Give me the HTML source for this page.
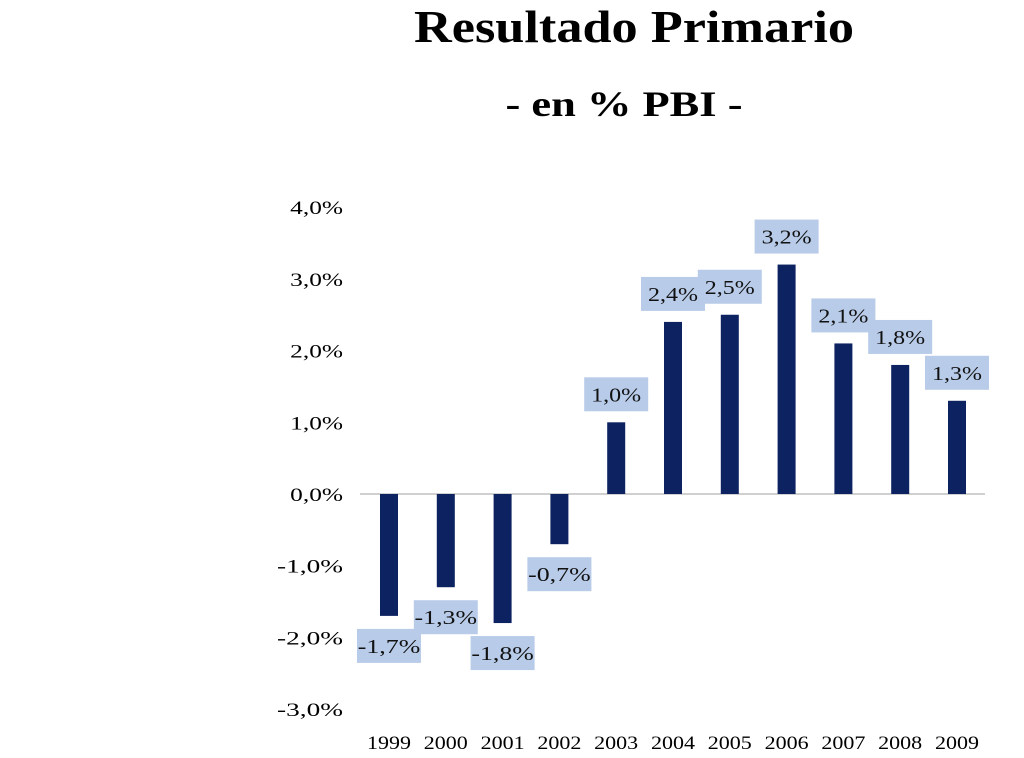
<!DOCTYPE html>
<html><head><meta charset="utf-8"><style>
body{margin:0;background:#fff;}
svg text{font-family:"Liberation Serif",serif;}
</style></head><body>
<svg width="1024" height="753" xmlns="http://www.w3.org/2000/svg">
<text x="634" y="42" text-anchor="middle" font-size="46" font-weight="bold" fill="#000" textLength="440" lengthAdjust="spacingAndGlyphs">Resultado Primario</text>
<text x="624" y="116" text-anchor="middle" font-size="36" font-weight="bold" fill="#000" textLength="237" lengthAdjust="spacingAndGlyphs">- en % PBI -</text>
<g id="plot"></g>
</svg>
<script>
const years=["1999","2000","2001","2002","2003","2004","2005","2006","2007","2008","2009"];
const values=[-1.7,-1.3,-1.8,-0.7,1.0,2.4,2.5,3.2,2.1,1.8,1.3];
const labels=["-1,7%","-1,3%","-1,8%","-0,7%","1,0%","2,4%","2,5%","3,2%","2,1%","1,8%","1,3%"];
const ticks=[4,3,2,1,0,-1,-2,-3];
const tickLabels=["4,0%","3,0%","2,0%","1,0%","0,0%","-1,0%","-2,0%","-3,0%"];
const NS="http://www.w3.org/2000/svg";
const g=document.getElementById('plot');
const y=v=>494-v*71.7;
const x=i=>389+i*56.8;
function mk(t,a){const e=document.createElementNS(NS,t);for(const k in a)e.setAttribute(k,a[k]);g.appendChild(e);return e;}
ticks.forEach((t,i)=>{
 const s=tickLabels[i];
 const e=mk('text',{x:343,y:y(t)+7,'text-anchor':'end','font-size':19,fill:'#000',textLength:s.length*13.2,lengthAdjust:'spacingAndGlyphs'});
 e.textContent=s;
 
 
});
const ax=mk('line',{x1:360,x2:985,y1:y(0),y2:y(0),stroke:'#d0d0d0','stroke-width':2});


values.forEach((v,i)=>{
 const cx=x(i);
 const r=mk('rect',{x:cx-9,y:Math.min(y(v),y(0)),width:18,height:Math.abs(y(v)-y(0)),fill:'#0d2260'});
 
 
 const by=v>=0?y(v)-45:y(v)+13;
 const b=mk('rect',{x:cx-32,y:by,width:64,height:34,fill:'#b8cce9'});
 
 
 const s=labels[i];
 const t=mk('text',{x:cx,y:by+24,'text-anchor':'middle','font-size':20,fill:'#111',textLength:s.length*12.5,lengthAdjust:'spacingAndGlyphs'});
 t.textContent=s;
 
 
 const yl=mk('text',{x:cx,y:749,'text-anchor':'middle','font-size':19,fill:'#000',textLength:44,lengthAdjust:'spacingAndGlyphs'});
 yl.textContent=years[i];
 
 
});
</script>
</body></html>
